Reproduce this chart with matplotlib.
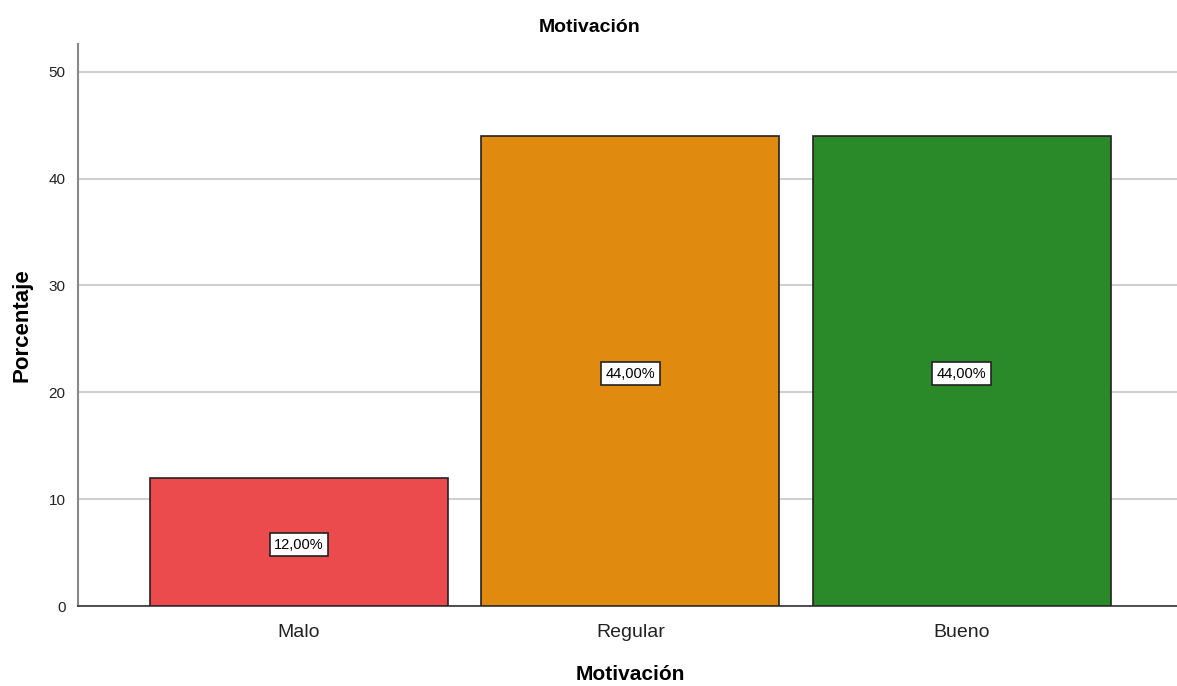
import matplotlib
matplotlib.use("Agg")
import matplotlib.pyplot as plt

plt.rcParams["font.family"] = ["Liberation Sans", "DejaVu Sans"]

categories = ["Malo", "Regular", "Bueno"]
values = [12.0, 44.0, 44.0]
labels = ["12,00%", "44,00%", "44,00%"]
colors = ["#EC4B4D", "#E08A10", "#2A8A2A"]
yticks = [0, 10, 20, 30, 40, 50]

fig = plt.figure(figsize=(11.77, 6.86), dpi=100)
ax = fig.add_axes([78/1177, 1-606/686, 1-78/1177, (606-44)/686])

x = range(len(categories))
ax.bar(x, values, width=0.9, color=colors, edgecolor="#222222", linewidth=1.2, zorder=3)
for xi, v, lab in zip(x, values, labels):
    ax.annotate(lab, (xi, v/2), xytext=(0, -2), textcoords="offset points",
                ha="center", va="center", fontsize=10.5, zorder=4,
                bbox=dict(boxstyle="square,pad=0.3", facecolor="white", edgecolor="#222222", linewidth=1.2))

ax.set_xlim(-0.667, 2.65)
ax.set_ylim(0, 52.6)
ax.set_yticks(yticks)
ax.set_xticks(list(x))
ax.set_xticklabels(categories, fontsize=14, color="#222222")
ax.tick_params(axis="y", labelsize=11, length=0, pad=9, labelcolor="#222222")
ax.tick_params(axis="x", length=0, pad=13)
ax.grid(axis="y", color="#D0D0D0", linewidth=1.5, zorder=0)
for s in ["top", "right"]:
    ax.spines[s].set_visible(False)
ax.spines["left"].set_color("#888888")
ax.spines["left"].set_linewidth(1.5)
ax.spines["bottom"].set_color("#333333")
ax.spines["bottom"].set_linewidth(1.2)

fig.text(590/1177, 1-27/686, "Motivación", ha="center", va="center", fontsize=14, fontweight="bold")
fig.text(630/1177, 1-675/686, "Motivación", ha="center", va="center", fontsize=15, fontweight="bold")
fig.text(22/1177, 1-325/686, "Porcentaje", ha="center", va="center", rotation=90, fontsize=16, fontweight="bold")

fig.savefig("out.png", dpi=100)
